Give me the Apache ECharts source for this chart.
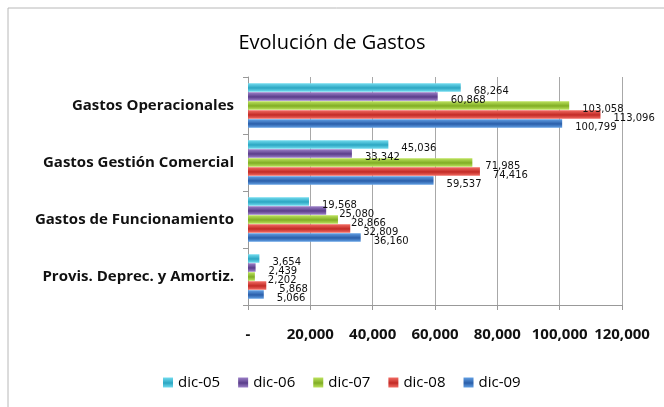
<!DOCTYPE html>
<html lang="es">
<head>
  <meta charset="UTF-8">
  <script src="https://cdn.jsdelivr.net/npm/echarts@6/dist/echarts.min.js"></script>
  <style>
    body { margin: 0; background: #fff; }
  </style>
</head>
<body>
  <div id="main" style="width: 664px;height:407px;"></div>
  <script type="text/javascript">
    // categorias (de abajo hacia arriba, como las dibuja echarts)
    let categorias = ['Provis. Deprec. y Amortiz.', 'Gastos de Funcionamiento', 'Gastos Gestión Comercial', 'Gastos Operacionales'];
    let periodos = ['dic-05', 'dic-06', 'dic-07', 'dic-08', 'dic-09'];

    let dic05 = [3654, 19568, 45036, 68264];
    let dic06 = [2439, 25080, 33342, 60868];
    let dic07 = [2202, 28866, 71985, 103058];
    let dic08 = [5868, 32809, 74416, 113096];
    let dic09 = [5066, 36160, 59537, 100799];

    let valores = [dic05, dic06, dic07, dic08, dic09];
    let colores = [
      ['#72dcef', '#2ba6c2'],  // dic-05
      ['#9c80c8', '#5a3d8a'],  // dic-06
      ['#bde35e', '#80ad24'],  // dic-07
      ['#f26c64', '#c22a25'],  // dic-08
      ['#62a0e4', '#2a5ea9']   // dic-09
    ];

    function fmt(v) {
      return v.toString().replace(/\B(?=(\d{3})+(?!\d))/g, ',');
    }

    var myChart = echarts.init(document.getElementById('main'));

    let series = periodos.map(function (p, i) {
      return {
        name: p,
        type: 'bar',
        data: valores[i],
        barGap: '6%',
        barCategoryGap: '22%',
        itemStyle: {
          color: new echarts.graphic.LinearGradient(0, 0, 0, 1, [
            { offset: 0, color: colores[i][0] },
            { offset: 0.55, color: colores[i][1] },
            { offset: 1, color: colores[i][0] }
          ])
        },
        label: {
          show: true,
          position: 'right',
          offset: [8, 4],
          color: '#111',
          fontSize: 10,
          fontFamily: 'DejaVu Sans',
          formatter: function (d) { return fmt(d.value); }
        }
      };
    });

    myChart.setOption({
      animation: false,
      graphic: [{
        type: 'rect',
        shape: { x: 8, y: 8, width: 700, height: 450 },
        style: { fill: 'none', stroke: '#b8b8b8', lineWidth: 1 }
      }],
      title: {
        text: 'Evolución de Gastos',
        left: 'center',
        top: 28,
        textStyle: { fontFamily: 'Open Sans', fontSize: 20, fontWeight: 'normal', color: '#000' }
      },
      legend: {
        data: periodos,
        left: 158,
        top: 370,
        itemWidth: 10,
        itemHeight: 10,
        itemGap: 18,
        icon: 'rect',
        textStyle: { fontFamily: 'Open Sans', fontSize: 15, color: '#000' }
      },
      grid: { left: 248, right: 42, top: 77, bottom: 102 },
      xAxis: {
        type: 'value',
        min: 0,
        max: 120000,
        interval: 20000,
        axisLine: { show: true, lineStyle: { color: '#999' } },
        axisTick: { show: true, length: 5, lineStyle: { color: '#999' } },
        splitLine: { show: true, lineStyle: { color: '#a8a8a8' } },
        axisLabel: {
          margin: 22,
          fontFamily: 'Open Sans',
          fontSize: 15,
          fontWeight: 'bold',
          color: '#111',
          formatter: function (v) { return v === 0 ? '-' : fmt(v); }
        }
      },
      yAxis: {
        type: 'category',
        data: categorias,
        axisLine: { show: true, lineStyle: { color: '#999' } },
        axisTick: { show: true, length: 5, lineStyle: { color: '#999' } },
        axisLabel: {
          margin: 14,
          fontFamily: 'Open Sans',
          fontSize: 15,
          fontWeight: 'bold',
          color: '#111'
        }
      },
      series: series
    });
  </script>
</body>
</html>
